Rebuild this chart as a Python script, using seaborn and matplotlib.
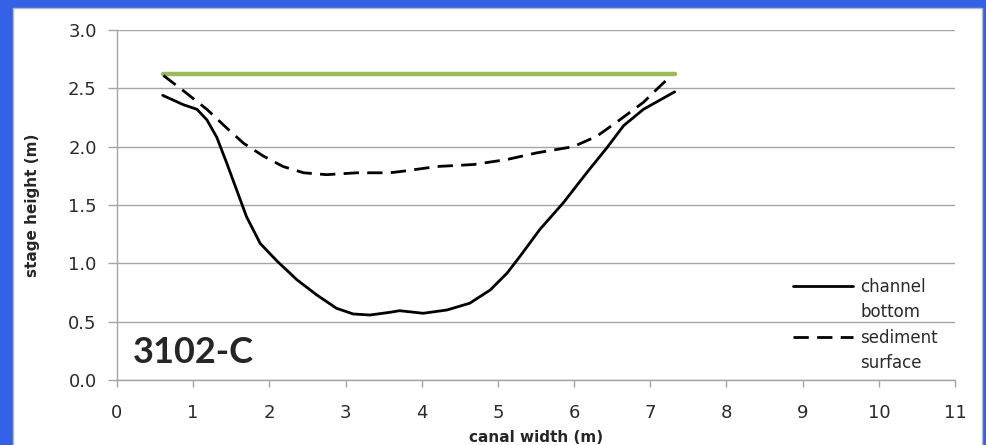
import matplotlib
matplotlib.use('Agg')
import matplotlib.pyplot as plt
from matplotlib.patches import Rectangle
from matplotlib.lines import Line2D
import seaborn as sns
import pandas as pd

# cross-section values
bottom_x = [0.60, 0.87, 1.05, 1.18, 1.31, 1.44, 1.57, 1.70, 1.88, 2.10, 2.36, 2.62, 2.88, 3.10, 3.32,
            3.58, 3.71, 4.02, 4.33, 4.63, 4.90, 5.12, 5.29, 5.55, 5.86, 6.17, 6.43, 6.65, 6.91, 7.32]
bottom_y = [2.44, 2.36, 2.32, 2.23, 2.08, 1.86, 1.63, 1.40, 1.17, 1.02, 0.86, 0.73, 0.615, 0.566, 0.557,
            0.58, 0.594, 0.572, 0.60, 0.658, 0.772, 0.916, 1.06, 1.29, 1.52, 1.78, 1.99, 2.18, 2.32, 2.47]

sediment_x = [0.61, 0.87, 1.18, 1.44, 1.66, 1.92, 2.18, 2.45, 2.75, 3.15, 3.58, 3.76, 4.20, 4.68,
              5.12, 5.51, 5.99, 6.30, 6.60, 6.91, 7.13, 7.28]
sediment_y = [2.61, 2.48, 2.32, 2.16, 2.03, 1.92, 1.83, 1.776, 1.76, 1.776, 1.776, 1.79, 1.83, 1.847,
              1.89, 1.947, 2.0, 2.09, 2.23, 2.38, 2.52, 2.61]

water_x = [0.60, 7.32]
water_y = [2.62, 2.62]

x_ticks = list(range(0, 12))
y_ticks = [0.0, 0.5, 1.0, 1.5, 2.0, 2.5, 3.0]
site_label = '3102-C'

bottom_df = pd.DataFrame({'x': bottom_x, 'y': bottom_y})
sediment_df = pd.DataFrame({'x': sediment_x, 'y': sediment_y})
water_df = pd.DataFrame({'x': water_x, 'y': water_y})

sns.set_theme(style='white')
plt.rcParams['font.family'] = ['DejaVu Sans']

fig = plt.figure(figsize=(9.86, 4.45), dpi=100)
fig.patch.set_facecolor('#3362E8')
# white panel inside the blue frame
fig.add_artist(Rectangle((13 / 986, -0.02), (982 - 13) / 986, (445 - 8) / 445 + 0.02,
                         transform=fig.transFigure, facecolor='white',
                         edgecolor='#BBBBBB', linewidth=1, zorder=0))

ax = fig.add_axes([117 / 986, 1 - 380 / 445, (955 - 117) / 986, 350 / 445])
ax.set_facecolor('none')

sns.lineplot(data=water_df, x='x', y='y', sort=False, ax=ax, color='#9BBB59', linewidth=3.2, zorder=3)
sns.lineplot(data=bottom_df, x='x', y='y', sort=False, ax=ax, color='black', linewidth=2.0, zorder=4)
sns.lineplot(data=sediment_df, x='x', y='y', sort=False, ax=ax, color='black', linewidth=2.0, zorder=4)
ax.get_lines()[2].set_dashes((5.5, 3.0))

ax.set_xlim(0, 11)
ax.set_ylim(0, 3.0)
ax.set_xticks(x_ticks)
ax.set_yticks(y_ticks)
ax.set_yticklabels([f'{v:.1f}' for v in y_ticks])
ax.yaxis.grid(True, color='#A5A5A5', linewidth=1)
ax.set_axisbelow(True)

for s in ['top', 'right']:
    ax.spines[s].set_visible(False)
for s in ['left', 'bottom']:
    ax.spines[s].set_color('#A5A5A5')
    ax.spines[s].set_linewidth(1)

ax.tick_params(axis='y', which='major', left=True, length=6.5, width=1, color='#A5A5A5',
               pad=8, labelsize=13, labelcolor='#2A2A2A')
ax.tick_params(axis='x', which='major', bottom=True, length=5, width=1, color='#A5A5A5',
               pad=12, labelsize=13, labelcolor='#2A2A2A')

ax.set_xlabel('canal width (m)', fontsize=11, fontweight='bold', labelpad=6)
ax.set_ylabel('stage height (m)', fontsize=11, fontweight='bold', labelpad=20)

ax.text(0.019, 0.049, site_label, transform=ax.transAxes, fontsize=26,
        fontweight='bold', family='Lato', ha='left', va='baseline')

lines = ax.get_lines()
blank = Line2D([], [], color='none')
leg = ax.legend([lines[1], blank, lines[2], blank],
                ['channel', 'bottom', 'sediment', 'surface'],
                loc='upper left', bbox_to_anchor=(0.807, 0.292), frameon=False,
                fontsize=12, handlelength=3.6, handletextpad=0.42, labelspacing=0.45,
                borderpad=0, borderaxespad=0)
for t in leg.get_texts():
    t.set_color('#2A2A2A')

fig.savefig('out.png', dpi=100, facecolor=fig.get_facecolor())
